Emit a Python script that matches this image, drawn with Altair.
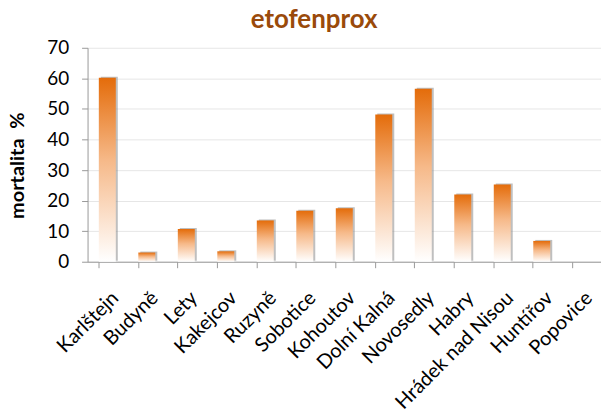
import altair as alt
import pandas as pd

sites = ["Karlštejn", "Budyně", "Lety", "Kakejcov", "Ruzyně", "Sobotice", "Kohoutov",
         "Dolní Kalná", "Novosedly", "Habry", "Hrádek nad Nisou", "Huntířov", "Popovice"]
mortality = [60.2, 3.0, 10.7, 3.4, 13.5, 16.7, 17.5, 48.2, 56.6, 22.0, 25.3, 6.8, 0.0]

df = pd.DataFrame({"site": sites, "mortalita": mortality})

FONT = "Lato"

grad = alt.Gradient(
    gradient="linear",
    stops=[alt.GradientStop(color="#ffffff", offset=0),
           alt.GradientStop(color="#f6b989", offset=0.55),
           alt.GradientStop(color="#e46c0a", offset=1)],
    x1=0, x2=0, y1=1, y2=0,
)

x_enc = alt.X("site:N", sort=sites, title=None,
              scale=alt.Scale(paddingInner=0.57, paddingOuter=0.285),
              axis=alt.Axis(labelAngle=-45, labelFontSize=20, labelFont=FONT,
                            labelColor="#000000", labelPadding=20, labelOffset=1,
                            bandPosition=0, tickSize=6, tickColor="#999999",
                            domainColor="#999999", labelLimit=300))
y_enc = alt.Y("mortalita:Q", title="mortalita\u00a0 %",
              scale=alt.Scale(domain=[0, 70]),
              axis=alt.Axis(values=[0, 10, 20, 30, 40, 50, 60, 70], labelFontSize=19,
                            labelFont=FONT, labelColor="#000000", labelPadding=13,
                            tickSize=6, tickColor="#999999", domainColor="#999999",
                            gridColor="#e6e6e6", titleFont=FONT, titleFontSize=20,
                            titleFontWeight="bold", titleColor="#000000",
                            titlePadding=19, titleY=118))

shadow = alt.Chart(df).mark_bar(color="#8a8a8a", opacity=0.55, xOffset=2, yOffset=-1).encode(
    x=x_enc, y=y_enc)
bars = alt.Chart(df).mark_bar(fill=grad).encode(x=x_enc, y=y_enc)

chart = alt.layer(shadow, bars).properties(
    width=516, height=215,
    autosize=alt.AutoSizeParams(type="none"),
    padding={"left": 88, "top": 47, "right": 0, "bottom": 150},
    title=alt.TitleParams("etofenprox", font=FONT, fontSize=26, fontWeight="bold",
                          color="#9a4a0a", anchor="start", dx=244, offset=6),
).configure_view(stroke=None)

chart.save("out.html", embed_options={"renderer": "svg", "actions": False})
